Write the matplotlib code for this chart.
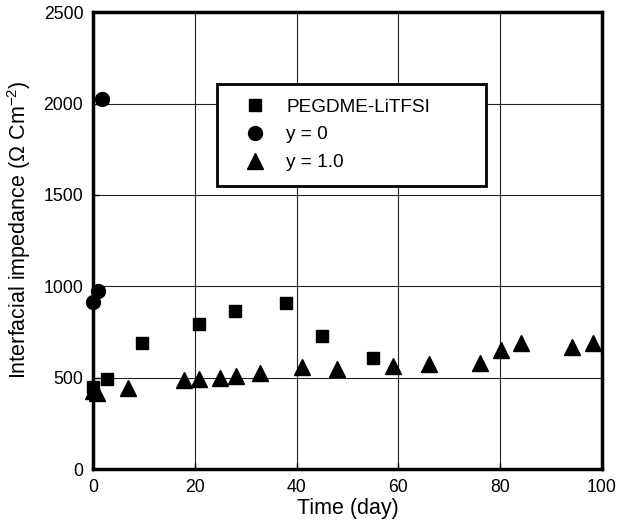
import matplotlib
matplotlib.use("Agg")
import matplotlib.pyplot as plt

plt.rcParams['font.family'] = ['Liberation Sans', 'DejaVu Sans']
plt.rcParams['mathtext.fontset'] = 'custom'
plt.rcParams['mathtext.rm'] = 'Liberation Sans'
plt.rcParams['mathtext.it'] = 'Liberation Sans:italic'

# data
peg_day = [0, 2.7, 9.7, 20.8, 27.9, 38, 45, 55.1]
peg_imp = [450, 490, 688, 793, 864, 910, 727, 609]

y0_day = [0, 0.9, 1.8]
y0_imp = [915, 975, 2024]

y1_day = [0, 0.8, 6.9, 17.9, 20.8, 25, 28, 32.9, 41, 48, 59, 66.1, 76.1, 80.2, 84.1, 94.2, 98.2]
y1_imp = [425, 418, 445, 487, 492, 500, 511, 523, 556, 545, 563, 574, 581, 649, 691, 669, 691]

fig = plt.figure(figsize=(6.21, 5.27), dpi=100)
ax = fig.add_axes([0.1498, 0.110, 0.8196, 0.867])

ax.plot(peg_day, peg_imp, 's', color='black', markersize=8.5, linestyle='none', label='PEGDME-LiTFSI', clip_on=False)
ax.plot(y0_day, y0_imp, 'o', color='black', markersize=10, linestyle='none', label='y = 0', clip_on=False)
ax.plot(y1_day, y1_imp, '^', color='black', markersize=11.5, linestyle='none', label='y = 1.0', clip_on=False)

ax.set_xlim(0, 100)
ax.set_ylim(0, 2500)
ax.set_xticks(range(0, 101, 20))
ax.set_yticks(range(0, 2501, 500))
ax.grid(True, color='#222222', linewidth=0.8)
ax.set_axisbelow(True)
ax.tick_params(direction='in', length=4, width=1, labelsize=12.7, pad=7)
for s in ax.spines.values():
    s.set_linewidth(2.5)

ax.set_xlabel('Time (day)', fontsize=15.5)
ax.xaxis.set_label_coords(0.5, -0.064)
ax.set_ylabel('Interfacial impedance ($\\Omega$ Cm$^{-2}$)', fontsize=15.5)
ax.yaxis.set_label_coords(-0.118, 0.523)

# legend box spans roughly day 24-77 in the reference
leg = ax.legend(loc='upper left', bbox_to_anchor=(0.2436, 0.8425, 0.5286, 0.0), mode='expand',
                fontsize=13.7, frameon=True, fancybox=False, edgecolor='black', framealpha=1,
                borderpad=0.75, labelspacing=0.55, handletextpad=0.4, borderaxespad=0,
                handlelength=2.5)
leg.get_frame().set_linewidth(2)

fig.savefig('out.png', dpi=100)
